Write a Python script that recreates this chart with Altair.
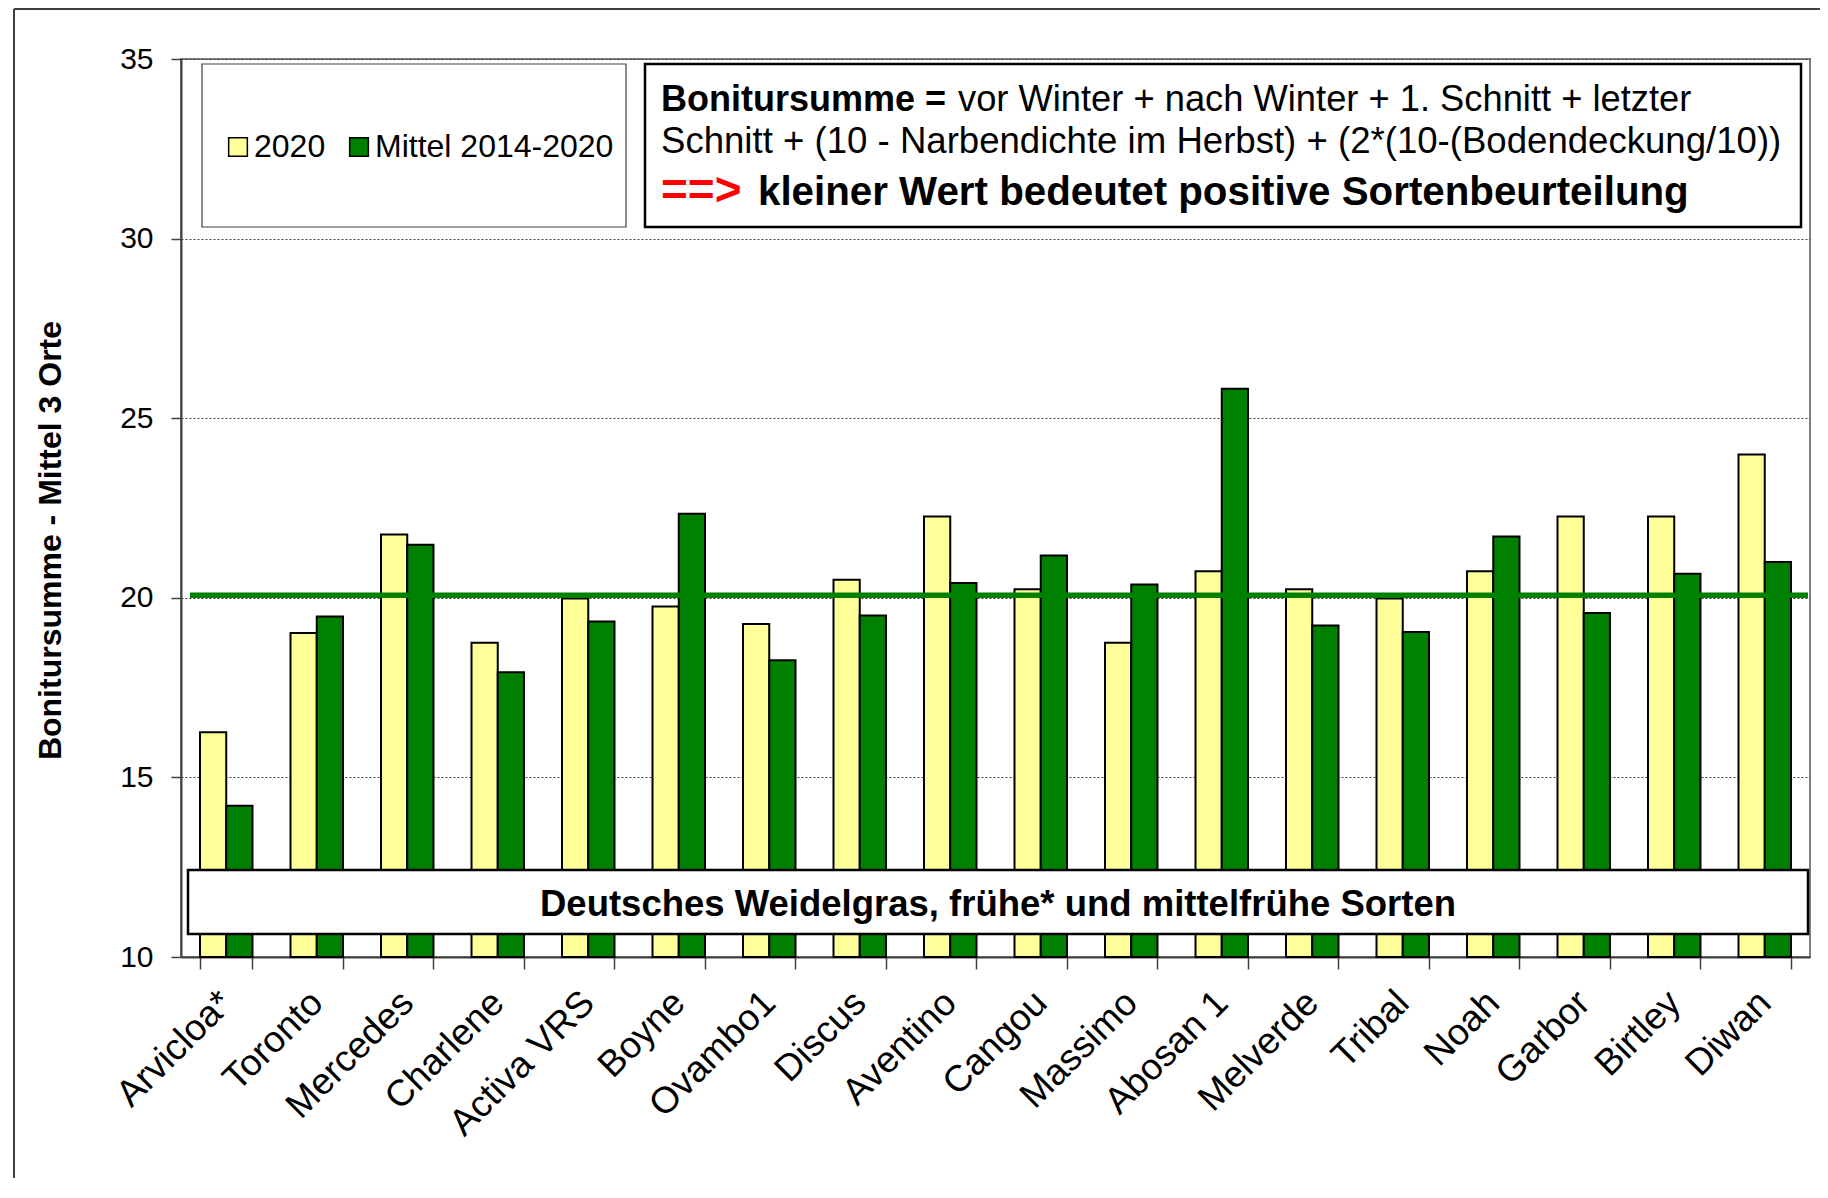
import altair as alt
import pandas as pd

categories = ["Arvicloa*", "Toronto", "Mercedes", "Charlene", "Activa VRS", "Boyne",
              "Ovambo1", "Discus", "Aventino", "Cangou", "Massimo", "Abosan 1",
              "Melverde", "Tribal", "Noah", "Garbor", "Birtley", "Diwan"]
values_2020 = [16.26, 19.02, 21.76, 18.75, 19.98, 19.76, 19.27, 20.50, 22.26,
               20.24, 18.75, 20.74, 20.24, 19.98, 20.74, 22.26, 22.26, 23.99]
values_mittel = [14.21, 19.48, 21.48, 17.93, 19.34, 22.34, 18.26, 19.51, 20.41,
                 21.18, 20.37, 25.82, 19.23, 19.05, 21.71, 19.58, 20.67, 21.00]
series_names = ["2020", "Mittel 2014-2020"]
series_colors = ["#FFFF99", "#008000"]
average_line = [20.07]
y_ticks = [10, 15, 20, 25, 30, 35]
y_title = "Bonitursumme - Mittel 3 Orte"
box_label = "Deutsches Weidelgras, frühe* und mittelfrühe Sorten"
formula_bold = "Bonitursumme ="
formula_line1 = "vor Winter + nach Winter + 1. Schnitt + letzter"
formula_line2 = "Schnitt + (10 - Narbendichte im Herbst) + (2*(10-(Bodendeckung/10))"
arrow_text = "==>"
conclusion = "kleiner Wert bedeutet positive Sortenbeurteilung"

rows = []
for c, a, b in zip(categories, values_2020, values_mittel):
    rows.append({"Sorte": c, "Serie": series_names[0], "Wert": a, "Basis": 10})
    rows.append({"Sorte": c, "Serie": series_names[1], "Wert": b, "Basis": 10})
df = pd.DataFrame(rows)

W, H = 1629, 898
FONT = "Liberation Sans"

x_enc = alt.X("Sorte:N", sort=categories,
              scale=alt.Scale(paddingInner=0.42, paddingOuter=0.21),
              axis=alt.Axis(title=None, labelAngle=-45, labelAlign="right",
                            labelBaseline="middle", labelFontSize=37, labelFont=FONT,
                            labelColor="black", labelPadding=28, tickBand="extent",
                            tickSize=12, tickColor="#404040", tickWidth=1.5,
                            domainColor="#404040", domainWidth=2, labelLimit=400))
y_enc = alt.Y("Wert:Q", scale=alt.Scale(domain=[10, 35], zero=False, nice=False),
              axis=alt.Axis(title=y_title, values=y_ticks, labelFontSize=30,
                            labelFont=FONT, labelColor="black", labelPadding=18,
                            tickSize=10, tickColor="#404040", tickWidth=1.5,
                            domainColor="#404040", domainWidth=2,
                            grid=True, gridColor="#404040", gridDash=[2, 2], gridWidth=1,
                            titleFontSize=32, titleFont=FONT, titleFontWeight="bold",
                            titleColor="black", titleAngle=270, titleX=-131, titleY=481,
                            titleAlign="center", titleBaseline="middle"))

bars = alt.Chart(df).mark_bar(stroke="black", strokeWidth=2).encode(
    x=x_enc,
    xOffset=alt.XOffset("Serie:N", sort=series_names,
                        scale=alt.Scale(paddingInner=0, paddingOuter=0)),
    y=y_enc,
    y2="Basis:Q",
    color=alt.Color("Serie:N", sort=series_names,
                    scale=alt.Scale(domain=series_names, range=series_colors),
                    legend=alt.Legend(title=None, orient="none", legendX=41, legendY=72,
                                      direction="horizontal", symbolType="square",
                                      symbolSize=350, symbolStrokeColor="black",
                                      symbolStrokeWidth=1.5, labelFontSize=32,
                                      labelFont=FONT, labelColor="black", labelLimit=500,
                                      columnPadding=17, labelOffset=0, padding=0)),
)

avg_df = pd.DataFrame({"Mittel": average_line})
avg = alt.Chart(avg_df).mark_rule(color="#008000", strokeWidth=5.5).encode(
    y=alt.Y("Mittel:Q"), x=alt.value(9), x2=alt.value(1627))

def box(x0, x1, y0, y1, stroke, sw):
    return alt.Chart(avg_df).mark_rect(fill="white", stroke=stroke, strokeWidth=sw).encode(
        x=alt.value(x0), x2=alt.value(x1), y=alt.value(y0), y2=alt.value(y1))

label_box = box(7, 1627, 811, 875, "black", 2.5)
legend_box = box(21, 445, 5, 168, "#404040", 1.2)
formula_box = box(464, 1620, 5, 168, "black", 2.5)

def txt(s, x, y, size, weight="normal", color="black", align="left"):
    return alt.Chart(avg_df).mark_text(text=s, fontSize=size, fontWeight=weight,
                                       font=FONT, color=color, align=align,
                                       baseline="alphabetic").encode(
        x=alt.value(x), y=alt.value(y))

label_text = txt(box_label, 817, 857, 36.5, "bold", align="center")
f1 = txt(formula_bold, 480, 52, 36, "bold")
f2 = txt(formula_line1, 777, 52, 36.3)
f3 = txt(formula_line2, 480, 94, 36.6)
f4 = txt(arrow_text, 480, 146, 46, "bold", "#FF0000")
f5 = txt(conclusion, 577, 146, 40.3, "bold")

frame_left = alt.Chart(avg_df).mark_rule(color="#404040", strokeWidth=2).encode(
    x=alt.value(-167), y=alt.value(-50), y2=alt.value(1200))
frame_top = alt.Chart(avg_df).mark_rule(color="#404040", strokeWidth=2).encode(
    y=alt.value(-50), x=alt.value(-167), x2=alt.value(1700))

chart = alt.layer(
    bars, avg, label_box, label_text, legend_box, formula_box,
    f1, f2, f3, f4, f5, frame_left, frame_top
).properties(
    width=W, height=H,
    autosize=alt.AutoSizeParams(type="none"),
    padding={"left": 173, "top": 51, "right": 10, "bottom": 221},
    background="white",
).configure_view(stroke="#808080", strokeWidth=2)

chart.save("out.html", embed_options={"renderer": "svg", "actions": False})
